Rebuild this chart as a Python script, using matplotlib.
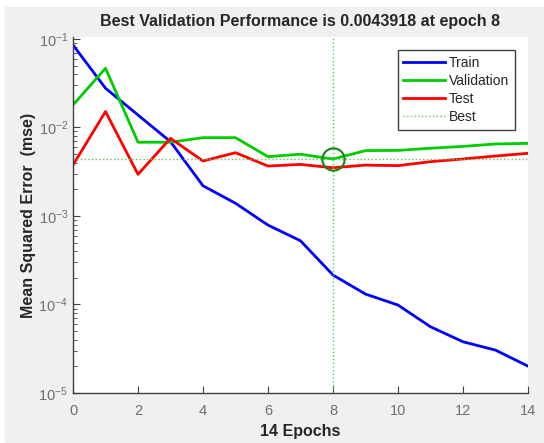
import matplotlib
matplotlib.use("Agg")
import matplotlib.pyplot as plt
from matplotlib.patches import Rectangle

plt.rcParams['font.family'] = ['Liberation Sans', 'DejaVu Sans']

epochs = list(range(15))
train = [0.0853, 0.0277, 0.0138, 0.0069, 0.00219, 0.00139, 0.000788, 0.000524,
         0.000215, 0.000131, 0.0000985, 0.000056, 0.0000379, 0.0000305, 0.0000201]
validation = [0.0179, 0.0466, 0.0068, 0.0068, 0.00766, 0.00766, 0.00467, 0.00498,
              0.0043918, 0.00547, 0.0055, 0.00582, 0.0061, 0.0065, 0.0066]
test = [0.00376, 0.0151, 0.00295, 0.00753, 0.00417, 0.00518, 0.00366, 0.00382,
        0.0035, 0.00375, 0.0037, 0.0041, 0.0044, 0.00475, 0.0051]
best_epoch = 8
best_value = 0.0043918

W, H = 544, 443
fig = plt.figure(figsize=(W / 100, H / 100), dpi=100, facecolor='white')
# grey MATLAB-style figure background
fig.patches.append(Rectangle((5 / W, 1 / H), (W - 5) / W, (H - 8) / H,
                             transform=fig.transFigure, color='#f0f0f0', zorder=-10))

left, right, top, bottom = 73, 528, 37, 393
ax = fig.add_axes([left / W, (H - bottom) / H, (right - left) / W, (bottom - top) / H])
ax.set_facecolor('white')

ax.plot(epochs, train, color='#0000ff', linewidth=2, label='Train')
ax.plot(epochs, validation, color='#00cc00', linewidth=2, label='Validation')
ax.plot(epochs, test, color='#ff0000', linewidth=2, label='Test')
ax.axhline(best_value, color='#5cc85c', linestyle=':', linewidth=1, label='Best')
ax.axvline(best_epoch, color='#5cc85c', linestyle=':', linewidth=1)
ax.plot([best_epoch], [best_value], 'o', markersize=16, markerfacecolor='none',
        markeredgecolor='#1a801a', markeredgewidth=1.5)

ax.set_yscale('log')
ax.set_xlim(0, 14)
ax.set_ylim(1e-5, 0.105)
ax.set_xticks(range(0, 15, 2))

for side in ['top', 'right']:
    ax.spines[side].set_visible(False)
for side in ['left', 'bottom']:
    ax.spines[side].set_color('#404040')
    ax.spines[side].set_linewidth(1)
ax.tick_params(which='both', direction='in', colors='#404040', labelcolor='#707070',
               labelsize=10.5)
ax.tick_params(which='major', length=5)
ax.tick_params(which='minor', length=3)
ax.tick_params(axis='x', pad=8)

ax.set_title('Best Validation Performance is 0.0043918 at epoch 8',
             fontsize=11.5, fontweight='bold', color='#262626', pad=8)
ax.set_xlabel('14 Epochs', fontsize=11.5, fontweight='bold', color='#262626', labelpad=4)
ax.set_ylabel('Mean Squared Error  (mse)', fontsize=11.5, fontweight='bold',
              color='#262626', labelpad=2)

leg = ax.legend(loc='upper right', bbox_to_anchor=(0.971, 0.963), borderaxespad=0,
                fontsize=10, fancybox=False, framealpha=1, edgecolor='#404040',
                handlelength=3.0, handletextpad=0.3, borderpad=0.4, labelspacing=0.3)
leg.get_frame().set_linewidth(1)
for t in leg.get_texts():
    t.set_color('#262626')

fig.savefig('out.png', dpi=100, facecolor=fig.get_facecolor())
